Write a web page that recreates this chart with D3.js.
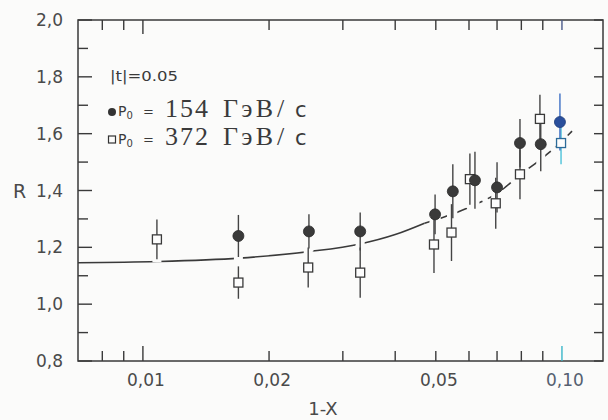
<!DOCTYPE html>
<html>
<head>
<meta charset="utf-8">
<script src="https://cdn.jsdelivr.net/npm/d3@7"></script>
<style>
  body { margin: 0; background: #fbfbfa; }
  svg { display: block; }
</style>
</head>
<body>
<div id="chart"></div>
<script>
// R vs 1-X, |t| = 0.05

// p0 = 154 GeV/c (filled circles)
const x154 = [0.0169, 0.0249, 0.0330, 0.0498, 0.0549, 0.0620, 0.0700, 0.0794, 0.0890, 0.0989];
const r154 = [1.240, 1.256, 1.256, 1.316, 1.397, 1.436, 1.411, 1.567, 1.563, 1.641];
const e154 = [0.074, 0.060, 0.067, 0.070, 0.095, 0.100, 0.088, 0.085, 0.095, 0.100];

// p0 = 372 GeV/c (open squares)
const x372 = [0.0108, 0.0169, 0.0248, 0.0330, 0.0495, 0.0545, 0.0603, 0.0695, 0.0794, 0.0886, 0.0995];
const r372 = [1.228, 1.076, 1.129, 1.111, 1.210, 1.252, 1.440, 1.355, 1.457, 1.652, 1.567];
const e372 = [0.070, 0.057, 0.070, 0.088, 0.100, 0.100, 0.090, 0.090, 0.088, 0.085, 0.075];

// fitted curve
const curveX = [0.007, 0.0108, 0.017, 0.0249, 0.033, 0.040, 0.047, 0.055, 0.062, 0.070, 0.0794, 0.089, 0.0989, 0.1057];
const curveR = [1.146, 1.150, 1.162, 1.185, 1.212, 1.245, 1.285, 1.318, 1.350, 1.390, 1.455, 1.510, 1.567, 1.609];

const xTicks = [0.008, 0.009, 0.01, 0.02, 0.03, 0.04, 0.05, 0.06, 0.07, 0.08, 0.09, 0.10];
const xLabels = ["0,01", "0,02", "0,05", "0,10"];
const xLabelVals = [0.01, 0.02, 0.05, 0.10];
const yTicks = d3.range(8, 21).map(d => d / 10);
const yLabels = [0.8, 1.0, 1.2, 1.4, 1.6, 1.8, 2.0];

const W = 608, H = 420;
const margin = { top: 20, right: 5, bottom: 59, left: 78 };
const width = W - margin.left - margin.right;
const height = H - margin.top - margin.bottom;

const svg = d3.select("#chart").append("svg")
  .attr("width", W).attr("height", H);

const g = svg.append("g")
  .attr("transform", `translate(${margin.left},${margin.top})`);

const x = d3.scaleLog().domain([0.0070, 0.1253]).range([0, width]);
const y = d3.scaleLinear().domain([0.8, 2.0]).range([height, 0]);

const ink = "#3a3a3a";
const bg = "#fbfbfa";

// frame
g.append("rect")
  .attr("width", width).attr("height", height)
  .attr("fill", "none").attr("stroke", ink).attr("stroke-width", 1.5);

// ticks, inward on all four sides
const isDecade = v => Math.abs(v - 0.01) < 1e-9;
const isTen = v => Math.abs(v - 0.10) < 1e-9;
g.selectAll(".xtb").data(xTicks).enter().append("line")
  .attr("x1", d => x(d)).attr("x2", d => x(d))
  .attr("y1", height).attr("y2", d => height - (isDecade(d) || isTen(d) ? 15 : 10))
  .attr("stroke", d => isTen(d) ? "#39b6c9" : ink).attr("stroke-width", 1.4);
g.selectAll(".xtt").data(xTicks).enter().append("line")
  .attr("x1", d => x(d)).attr("x2", d => x(d))
  .attr("y1", 0).attr("y2", d => isDecade(d) ? 14 : 10)
  .attr("stroke", d => isTen(d) ? "#4a5a8a" : ink).attr("stroke-width", 1.4);

const isLab = v => yLabels.some(l => Math.abs(l - v) < 1e-9);
g.selectAll(".ytl").data(yTicks).enter().append("line")
  .attr("x1", 0).attr("x2", d => isLab(d) ? 14 : 10)
  .attr("y1", d => y(d)).attr("y2", d => y(d))
  .attr("stroke", ink).attr("stroke-width", 1.4);
g.selectAll(".ytr").data(yTicks).enter().append("line")
  .attr("x1", width).attr("x2", width - 9)
  .attr("y1", d => y(d)).attr("y2", d => y(d))
  .attr("stroke", ink).attr("stroke-width", 1.4);

// tick labels
g.selectAll(".xl").data(xLabelVals).enter().append("text")
  .attr("x", d => x(d) + 3).attr("y", height + 25)
  .attr("text-anchor", "middle")
  .style("font-family", "DejaVu Sans").style("font-size", "17px")
  .attr("fill", d => isTen(d) ? "#556070" : "#4a4a4a")
  .text((d, i) => xLabels[i]);

g.selectAll(".yl").data(yLabels).enter().append("text")
  .attr("x", -15).attr("y", d => y(d) + 6)
  .attr("text-anchor", "end")
  .style("font-family", "DejaVu Sans").style("font-size", "17px")
  .attr("fill", "#4a4a4a")
  .text(d => d3.format(".1f")(d).replace(".", ","));

// axis titles
g.append("text")
  .attr("x", -65).attr("y", y(1.4) + 7)
  .style("font-family", "DejaVu Sans").style("font-size", "19px")
  .attr("fill", "#4a4a4a").text("R");
g.append("text")
  .attr("x", 245).attr("y", height + 54)
  .attr("text-anchor", "middle")
  .style("font-family", "DejaVu Sans").style("font-size", "18px")
  .attr("fill", "#4a4a4a").text("1-X");

// curve: solid on the left, dashed on the right
const pts = curveX.map((v, i) => [v, curveR[i]]);
const line = d3.line().x(d => x(d[0])).y(d => y(d[1])).curve(d3.curveMonotoneX);
const split = 6;
g.append("path").datum(pts.slice(0, split + 1))
  .attr("d", line).attr("fill", "none")
  .attr("stroke", ink).attr("stroke-width", 1.6);
g.append("path").datum(pts.slice(split))
  .attr("d", line).attr("fill", "none")
  .attr("stroke", ink).attr("stroke-width", 1.6)
  .attr("stroke-dasharray", "11,6");

// gaps in the curve where the error bars cross it
const allPts = x154.map((v, i) => [v, r154[i], e154[i]])
  .concat(x372.map((v, i) => [v, r372[i], e372[i]]));
g.selectAll(".halo").data(allPts).enter().append("line")
  .attr("x1", d => x(d[0])).attr("x2", d => x(d[0]))
  .attr("y1", d => y(d[1] - d[2]) + 3).attr("y2", d => y(d[1] + d[2]) - 3)
  .attr("stroke", bg).attr("stroke-width", 9);

// error bars
const last154 = x154.length - 1, last372 = x372.length - 1;
g.selectAll(".eb372").data(x372).enter().append("line")
  .attr("x1", d => x(d)).attr("x2", d => x(d))
  .attr("y1", (d, i) => y(r372[i] - e372[i])).attr("y2", (d, i) => y(r372[i] + e372[i]))
  .attr("stroke", (d, i) => i === last372 ? "#4cc3da" : "#444").attr("stroke-width", 1.4);
g.selectAll(".eb154").data(x154).enter().append("line")
  .attr("x1", d => x(d)).attr("x2", d => x(d))
  .attr("y1", (d, i) => y(r154[i] - e154[i])).attr("y2", (d, i) => y(r154[i] + e154[i]))
  .attr("stroke", (d, i) => i === last154 ? "#3d6fc4" : "#444").attr("stroke-width", 1.4);

// markers
const s = 9;
g.selectAll(".sq").data(x372).enter().append("rect")
  .attr("x", d => x(d) - s / 2).attr("y", (d, i) => y(r372[i]) - s / 2)
  .attr("width", s).attr("height", s)
  .attr("fill", "#fdfdfd")
  .attr("stroke", (d, i) => i === last372 ? "#2c6b98" : "#3a3a3a").attr("stroke-width", 1.3);
g.selectAll(".ci").data(x154).enter().append("circle")
  .attr("cx", d => x(d)).attr("cy", (d, i) => y(r154[i]))
  .attr("r", 5.5)
  .attr("fill", (d, i) => i === last154 ? "#2a4f9c" : "#3a3a3a")
  .attr("stroke", (d, i) => i === last154 ? "#1e3c7a" : "#2a2a2a").attr("stroke-width", 0.8);

// legend
const sans = "DejaVu Sans", serif = "Liberation Serif";
svg.append("text")
  .attr("x", 110).attr("y", 81)
  .attr("textLength", 68).attr("lengthAdjust", "spacingAndGlyphs")
  .style("font-family", sans).style("font-size", "14px").attr("fill", "#3a3a3a")
  .text("|t|=0.05");

const rows = [
  { y: 117, num: "154", mark: "circle" },
  { y: 145, num: "372", mark: "square" }
];
rows.forEach(row => {
  if (row.mark === "circle") {
    svg.append("circle").attr("cx", 112).attr("cy", row.y - 5).attr("r", 4).attr("fill", "#333");
  } else {
    svg.append("rect").attr("x", 108.5).attr("y", row.y - 9).attr("width", 7).attr("height", 7)
      .attr("fill", "none").attr("stroke", "#333").attr("stroke-width", 1.2);
  }
  const t = svg.append("text").attr("x", 118).attr("y", row.y - 1)
    .style("font-family", sans).style("font-size", "14px").attr("fill", "#3a3a3a");
  t.append("tspan").text("P");
  t.append("tspan").attr("dy", 3).style("font-size", "10px").text("0");
  t.append("tspan").attr("dy", -3).attr("x", 143).style("font-size", "13px").text("=");
  const u = svg.append("text").attr("y", row.y)
    .style("font-family", serif).style("font-size", "26px").attr("fill", "#3a3a3a");
  u.append("tspan").attr("x", 165).attr("textLength", 43).attr("lengthAdjust", "spacing").text(row.num);
  u.append("tspan").attr("x", 223).attr("textLength", 50).attr("lengthAdjust", "spacing").text("ГэВ");
  u.append("tspan").attr("x", 277).text("/");
  u.append("tspan").attr("x", 295).style("font-family", sans).style("font-size", "21px").text("с");
});
</script>
</body>
</html>
